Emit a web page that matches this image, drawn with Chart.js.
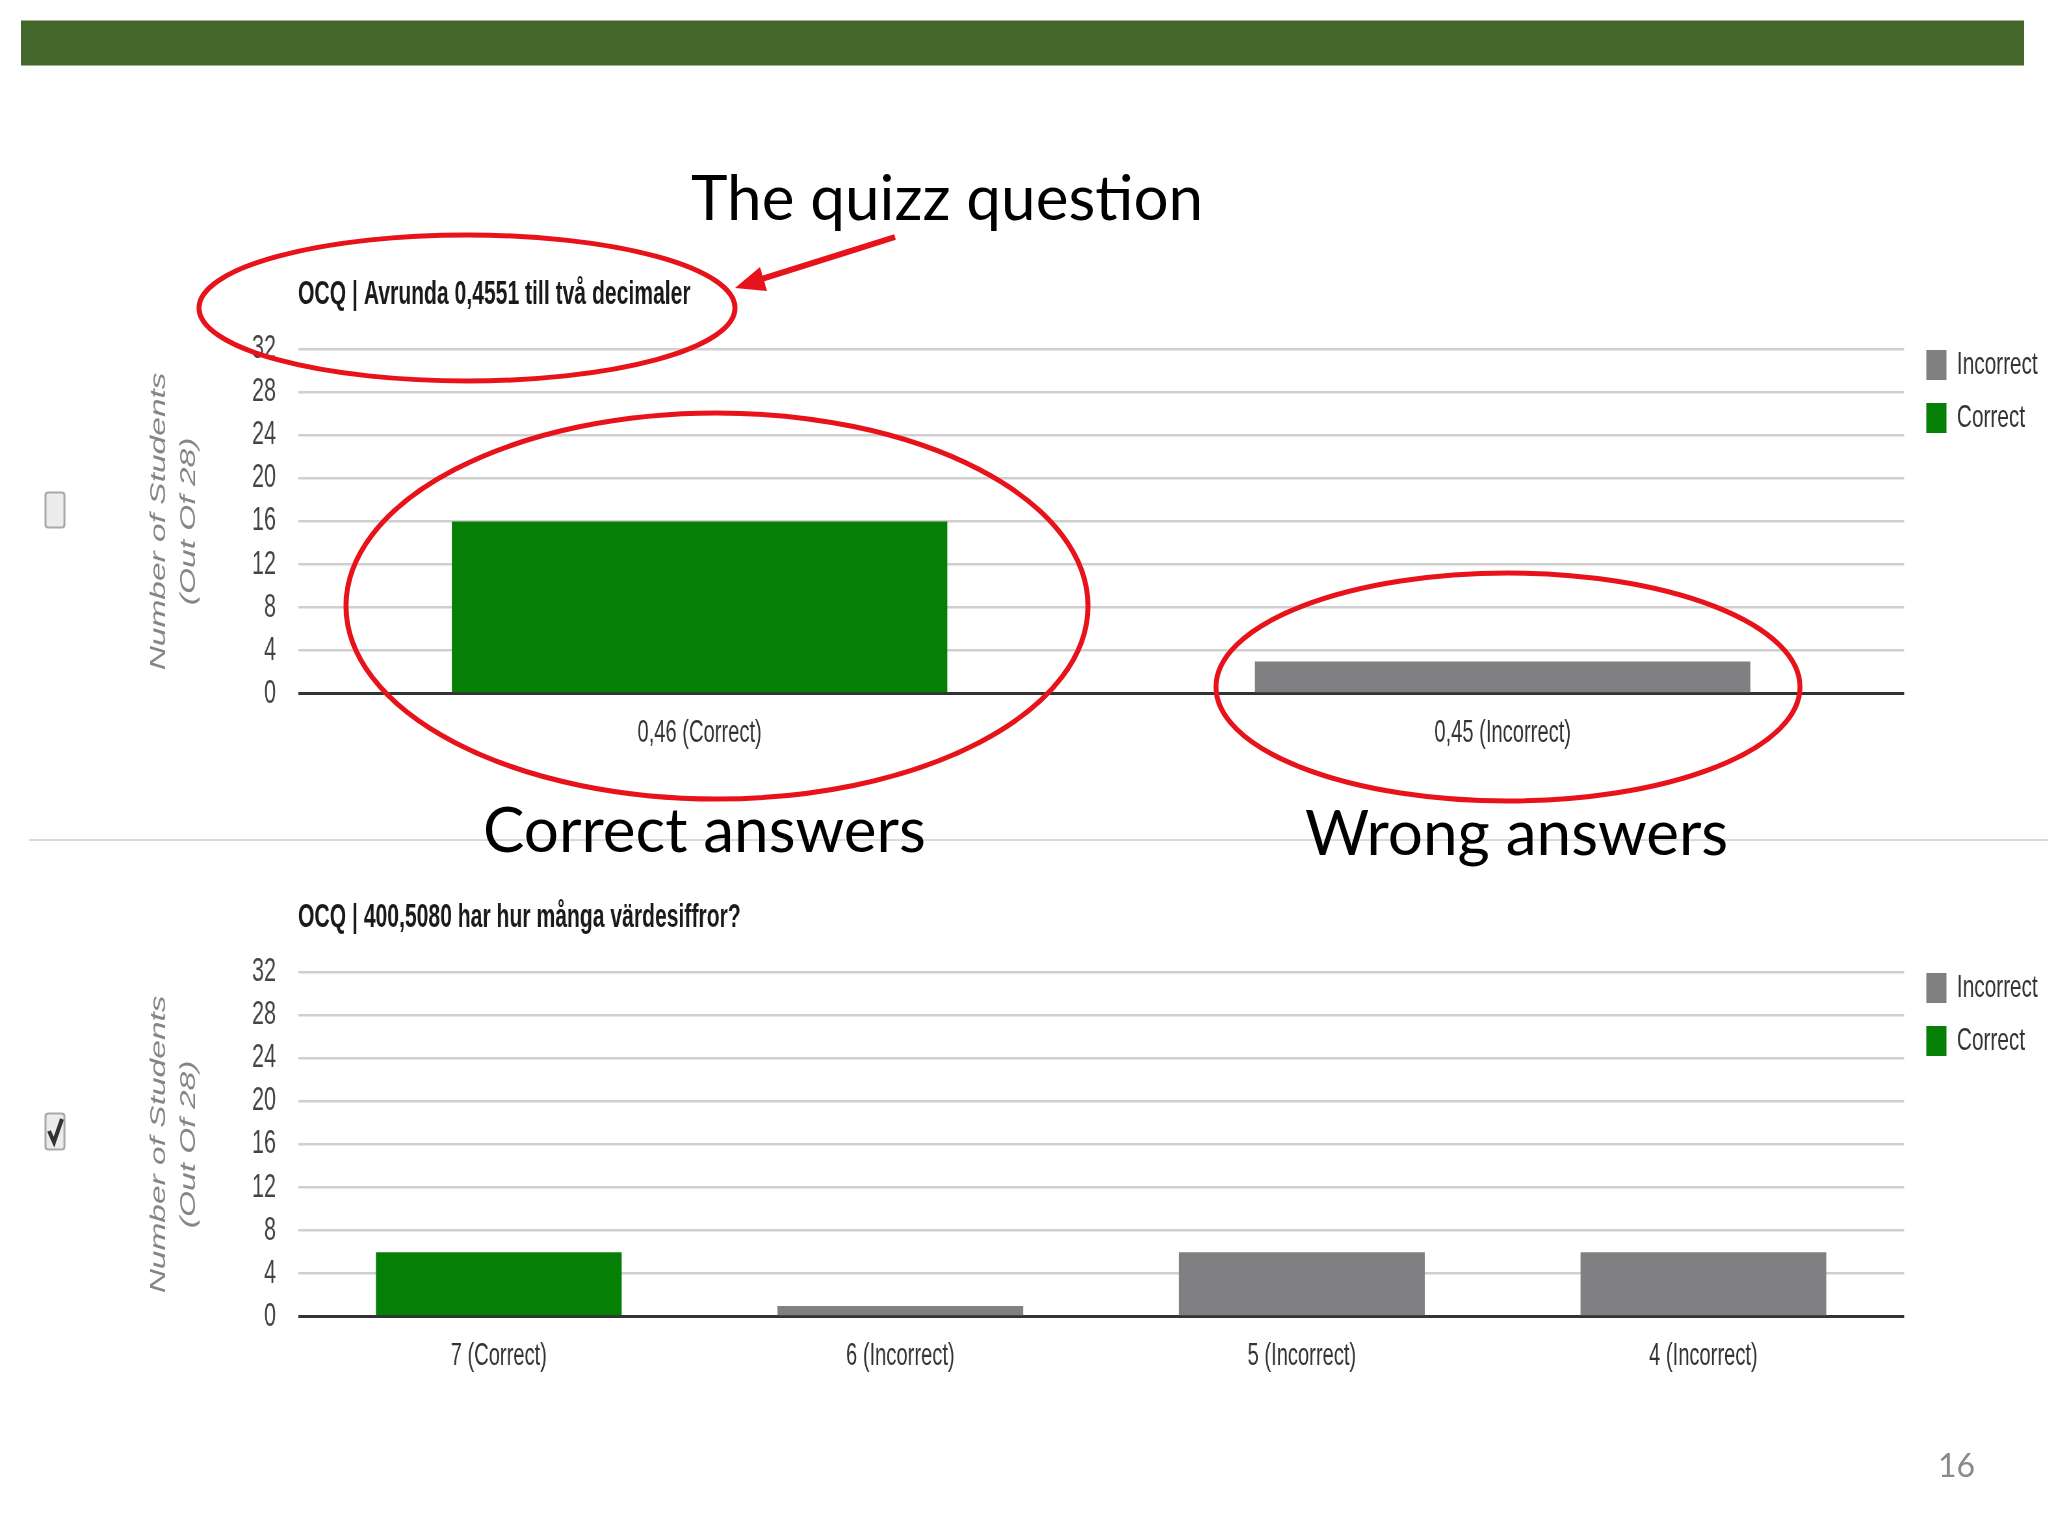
<!DOCTYPE html>
<html>
<head>
<meta charset="utf-8">
<script src="https://cdn.jsdelivr.net/npm/chart.js@4.4.1/dist/chart.umd.min.js"></script>
<style>
  body { margin: 0; width: 2048px; height: 1536px; overflow: hidden; background: #fff; position: relative; }
  /* la capture d'origine est tassée horizontalement : on reproduit l'effet */
  .box { position: absolute; transform: scaleX(0.65); transform-origin: 0 0; }
  #overlay { position: absolute; left: 0; top: 0; pointer-events: none; }
</style>
</head>
<body>
<div class="box" style="left:130px;top:276px;width:2940px;height:497px"><canvas id="chart1"></canvas></div>
<div class="box" style="left:130px;top:899px;width:2940px;height:497px"><canvas id="chart2"></canvas></div>

<svg id="overlay" width="2048" height="1536" xmlns="http://www.w3.org/2000/svg">
  <!-- bandeau vert du haut -->
  <rect x="21" y="20" width="2003" height="46" fill="#43672b"/>
  <line x1="21" y1="20.5" x2="2024" y2="20.5" stroke="#9db38a" stroke-width="1"/>
  <line x1="21" y1="65.5" x2="2024" y2="65.5" stroke="#9db38a" stroke-width="1"/>
  <!-- séparation entre les deux graphiques -->
  <line x1="29" y1="840" x2="2048" y2="840" stroke="#dadada" stroke-width="2"/>

  <g font-family="Lato" fill="#000">
    <text x="691" y="220" font-size="62">The quizz question</text>
    <text x="483" y="852" font-size="62">Correct answers</text>
    <text x="1305" y="855" font-size="62">Wrong answers</text>
  </g>

  <g fill="none" stroke="#e8121a" stroke-width="5">
    <ellipse cx="467" cy="308" rx="268" ry="73"/>
    <ellipse cx="717" cy="606" rx="371" ry="193"/>
    <ellipse cx="1508" cy="687" rx="292" ry="114"/>
  </g>
  <line x1="895" y1="237" x2="762" y2="279" stroke="#e8121a" stroke-width="6"/>
  <polygon points="735,288 767,291 760,267" fill="#e8121a"/>

  <!-- cases à cocher -->
  <rect x="45.5" y="492.5" width="19" height="35" rx="3" fill="#ececec" stroke="#a8a8a8" stroke-width="2"/>
  <rect x="45.5" y="1113.5" width="19" height="36" rx="3" fill="#ececec" stroke="#a8a8a8" stroke-width="2"/>
  <path d="M49 1131 L54 1142 L62 1119" fill="none" stroke="#333" stroke-width="4"/>

  <text x="1938" y="1477" font-family="Lato" font-size="32" fill="#8a8a8a">16</text>
</svg>

<script>
// Données : nombre d'élèves par réponse
const q1Title = "OCQ | Avrunda 0,4551 till två decimaler";
const q1Labels = ["0,46 (Correct)", "0,45 (Incorrect)"];
const q1Incorrect = [null, 3];
const q1Correct = [16, null];

const q2Title = "OCQ | 400,5080 har hur många värdesiffror?";
const q2Labels = ["7 (Correct)", "6 (Incorrect)", "5 (Incorrect)", "4 (Incorrect)"];
const q2Incorrect = [null, 1, 6, 6];
const q2Correct = [6, null, null, null];

const seriesNames = ["Incorrect", "Correct"];
const yAxisTitle = ["Number of Students", "(Out Of 28)"];
const yMax = 32;
const yStep = 4;

const FONT = "'Liberation Sans', Arial, sans-serif";
const GREEN = "#067f06";
const GREY = "#807f81";

// décale la légende un peu plus loin du graphique sans toucher à l'espacement vertical
const legendShift = {
  id: "legendShift",
  afterLayout(chart) {
    if (chart.legend) {
      const w = chart.legend.width;
      chart.legend.left = chart.chartArea.right + 13;
      chart.legend.right = chart.legend.left + w;
    }
  },
};

function makeChart(id, title, labels, incorrect, correct, catPct) {
  const ctx = document.getElementById(id).getContext("2d");
  return new Chart(ctx, {
    type: "bar",
    data: {
      labels: labels,
      datasets: [
        { label: seriesNames[0], data: incorrect, backgroundColor: GREY, borderWidth: 0 },
        { label: seriesNames[1], data: correct, backgroundColor: GREEN, borderWidth: 0 },
      ],
    },
    plugins: [legendShift],
    options: {
      responsive: true,
      maintainAspectRatio: false,
      animation: false,
      datasets: { bar: { barPercentage: 1, categoryPercentage: catPct } },
      layout: { padding: { right: 8 } },
      plugins: {
        title: {
          display: true,
          text: title,
          align: "start",
          fullSize: false,
          color: "#1a1a1a",
          font: { family: FONT, size: 32.5, weight: "bold", lineHeight: 1.2 },
          padding: { top: 0, bottom: 34 },
        },
        legend: {
          position: "right",
          align: "start",
          // titre vide : sert seulement à descendre la légende au niveau du haut du graphique
          title: { display: true, text: "", font: { size: 10, lineHeight: 1 }, padding: { top: 42, bottom: 0 } },
          labels: {
            boxWidth: 31,
            boxHeight: 30,
            padding: 21,
            color: "#333",
            font: { family: FONT, size: 32 },
          },
        },
        tooltip: { enabled: false },
      },
      scales: {
        x: {
          stacked: true,
          grid: { display: false, drawTicks: false },
          border: { display: false },
          ticks: { color: "#333", padding: 21, font: { family: FONT, size: 31 } },
        },
        y: {
          stacked: true,
          min: 0,
          max: yMax,
          ticks: { stepSize: yStep, padding: 34, color: "#444", font: { family: FONT, size: 33 } },
          grid: {
            drawTicks: false,
            color: (c) => (c.tick && c.tick.value === 0 ? "#333" : "#cfcfcf"),
            lineWidth: (c) => (c.tick && c.tick.value === 0 ? 3 : 2.5),
          },
          border: { display: false },
          title: {
            display: true,
            text: yAxisTitle,
            color: "#858585",
            font: { family: FONT, size: 33.5, style: "italic", lineHeight: 1.373 },
            padding: { top: 22, bottom: 0 },
          },
          afterFit: (scale) => {
            scale.width = 258.5;
          },
        },
      },
    },
  });
}

document.addEventListener("DOMContentLoaded", function () {
  makeChart("chart1", q1Title, q1Labels, q1Incorrect, q1Correct, 0.617);
  makeChart("chart2", q2Title, q2Labels, q2Incorrect, q2Correct, 0.612);
});
</script>
</body>
</html>
